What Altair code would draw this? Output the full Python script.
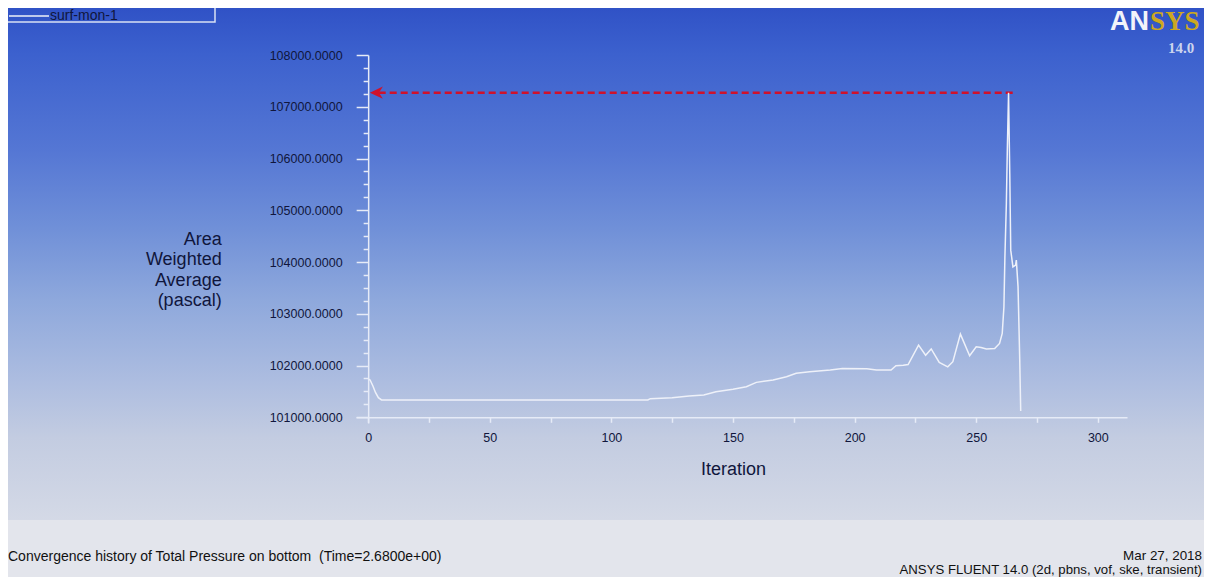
import altair as alt
import pandas as pd

# ---- data ----
iterations = [0, 0.8, 2, 3, 4.2, 5.5, 20, 60, 100, 115,
              116, 125, 132, 138, 143, 150, 155.5, 159.6, 166.5, 172,
              176, 181.5, 190, 195, 205, 209, 215, 217, 220, 222,
              226.3, 229.2, 231.5, 234.8, 238.3, 240.4, 243.5, 247.3, 250, 252,
              254.2, 257.6, 259.6, 260.7, 261.4, 261.8, 262.4, 262.8, 263.3, 263.8,
              264.2, 265.1, 266.2, 266.5, 267.2, 267.9, 268.3]
pressure = [101740, 101720, 101600, 101480, 101380, 101335, 101335, 101335, 101335, 101335,
            101360, 101378, 101411, 101430, 101495, 101540, 101590, 101675, 101720, 101785,
            101850, 101880, 101912, 101945, 101940, 101912, 101912, 101996, 102005, 102020,
            102395, 102200, 102320, 102060, 101975, 102075, 102607, 102190, 102362, 102350,
            102318, 102330, 102428, 102620, 103135, 104100, 105130, 106190, 107272, 105710,
            104230, 103906, 103940, 104036, 103520, 102106, 101120]
series_name = "surf-mon-1"

arrow_from_iter = [265.0]
arrow_to_iter = [2.0]
arrow_tip_iter = [0.7]
arrow_value = [107272]

x_ticks = list(range(0, 301, 25))
y_ticks = list(range(101000, 108001, 250))

y_title = ["Area", "Weighted", "Average", "(pascal)"]
x_title = "Iteration"
footer_left = ["Convergence history of Total Pressure on bottom \u00a0(Time=2.6800e+00)"]
footer_right = ["Mar 27, 2018", "ANSYS FLUENT 14.0 (2d, pbns, vof, ske, transient)"]
logo_a = ["AN"]
logo_b = ["SYS"]
logo_ver = ["14.0"]

FONT = "Liberation Sans"
NAVY = "#10163c"
AXIS_COL = "#e6ebf7"
LINE_COL = "#eef1f9"

W, H = 771, 368

df = pd.DataFrame({"it": iterations, "val": pressure, "series": series_name})
arrow_df = pd.DataFrame({"it": arrow_from_iter, "it2": arrow_to_iter, "val": arrow_value})
tip_df = pd.DataFrame({"it": arrow_tip_iter, "val": arrow_value})
one = pd.DataFrame({"k": [0]})

x_axis = alt.Axis(
    values=x_ticks, format="d",
    labelExpr="datum.value % 50 === 0 ? datum.label : ''",
    offset=-5.7, zindex=1, grid=False,
    domainColor=AXIS_COL, domainWidth=1.5,
    tickColor=AXIS_COL, tickWidth=1.5, tickSize=5,
    labelFont=FONT, labelFontSize=12.5, labelColor=NAVY, labelPadding=9,
    title=x_title, titleFont=FONT, titleFontSize=18, titleFontWeight="normal",
    titleColor=NAVY, titleX=377, titleY=57, titleBaseline="alphabetic", titleAlign="center",
)
y_axis = alt.Axis(
    values=y_ticks,
    labelExpr="datum.value % 1000 === 0 ? format(datum.value, '.4f') : ''",
    offset=-12.16, zindex=1, grid=False,
    domainColor=AXIS_COL, domainWidth=1.5,
    tickColor=AXIS_COL, tickWidth=1.5,
    tickSize={"condition": {"test": "datum.value % 1000 === 0", "value": 12}, "value": 5},
    labelFont=FONT, labelFontSize=12.5, labelColor=NAVY, labelPadding=14,
    title=y_title, titleAngle=0, titleAlign="right", titleBaseline="alphabetic",
    titleX=-147, titleY=189, titleLineHeight=20.5,
    titleFont=FONT, titleFontSize=18, titleFontWeight="normal", titleColor=NAVY,
)

x_scale = alt.Scale(domain=[-5, 312], nice=False, zero=False)
y_scale = alt.Scale(domain=[100890, 108000], nice=False, zero=False)

def xenc(field="it"):
    return alt.X(f"{field}:Q", scale=x_scale, axis=x_axis)

def yenc(field="val"):
    return alt.Y(f"{field}:Q", scale=y_scale, axis=y_axis)

gradient = alt.Gradient(
    gradient="linear", x1=0, x2=0, y1=0, y2=1,
    stops=[
        alt.GradientStop(offset=0.0, color="#3052c6"),
        alt.GradientStop(offset=0.09, color="#3c61ce"),
        alt.GradientStop(offset=0.28, color="#5577d4"),
        alt.GradientStop(offset=0.43, color="#7090d8"),
        alt.GradientStop(offset=0.57, color="#8ea8dc"),
        alt.GradientStop(offset=0.73, color="#adbde0"),
        alt.GradientStop(offset=0.84, color="#c3cce1"),
        alt.GradientStop(offset=1.0, color="#d4d9e6"),
    ],
)

background = alt.Chart(one).mark_rect(color=gradient).encode(
    x=alt.value(-348), x2=alt.value(848), y=alt.value(-47), y2=alt.value(465)
)

legend_box = alt.Chart(one).mark_rect(fill=None, stroke="#d9e1f4", strokeWidth=1.5).encode(
    x=alt.value(-370), x2=alt.value(-141), y=alt.value(-70), y2=alt.value(-33)
)

line = alt.Chart(df).mark_line(strokeWidth=1.5).encode(
    x=xenc(), y=yenc(),
    color=alt.Color(
        "series:N",
        scale=alt.Scale(range=[LINE_COL]),
        legend=alt.Legend(
            orient="none", legendX=-348, legendY=-60, title=None,
            symbolType="stroke", symbolSize=1600, symbolStrokeWidth=1.5,
            labelFont=FONT, labelFontSize=14, labelColor=NAVY, labelOffset=0,
            padding=0, rowPadding=0,
        ),
    ),
)

arrow_line = alt.Chart(arrow_df).mark_rule(
    color="#d0112b", strokeWidth=2.5, strokeDash=[7, 4]
).encode(x=xenc(), x2="it2:Q", y=yenc())

arrow_head = alt.Chart(tip_df).mark_point(
    shape="M 0 0 L 2 -0.95 L 1.4 0 L 2 0.95 Z", size=169,
    filled=True, color="#d0112b", opacity=1,
).encode(x=xenc(), y=yenc())

def text_layer(values, **kw):
    pos = {k: kw.pop(k) for k in ("x", "y")}
    return alt.Chart(pd.DataFrame({"t": values})).mark_text(**kw).encode(
        text="t:N", x=alt.value(pos["x"]), y=alt.value(pos["y"])
    )

t_footer_l = text_layer(footer_left, x=-348, y=506, align="left", baseline="alphabetic",
                        font=FONT, fontSize=14, color="#111111")
t_footer_r1 = text_layer(footer_right[:1], x=846, y=504.5, align="right", baseline="alphabetic",
                         font=FONT, fontSize=13.4, color="#111111")
t_footer_r2 = text_layer(footer_right[1:], x=846, y=519, align="right", baseline="alphabetic",
                         font=FONT, fontSize=13.2, color="#111111")
t_logo_a = text_layer(logo_a, x=754, y=-25, align="left", baseline="alphabetic",
                      font=FONT, fontSize=27, fontWeight="bold", color="#f2f4fa")
t_logo_b = text_layer(logo_b, x=794, y=-25, align="left", baseline="alphabetic",
                      font="Liberation Serif", fontSize=27, fontWeight="bold", color="#cda820")
t_logo_v = text_layer(logo_ver, x=812, y=-2, align="left", baseline="alphabetic",
                      font="Liberation Serif", fontSize=15, fontWeight="bold", color="#ccd4ee")

chart = alt.layer(
    background, legend_box, arrow_line, arrow_head, line,
    t_footer_l, t_footer_r1, t_footer_r2, t_logo_a, t_logo_b, t_logo_v,
).properties(
    width=W, height=H,
    padding={"left": 348, "top": 47, "right": 77, "bottom": 154},
    autosize=alt.AutoSizeParams(type="none"),
    background="#e3e5ec",
).configure_view(stroke=None)

chart.save("out.html", embed_options={"renderer": "svg", "actions": False})
